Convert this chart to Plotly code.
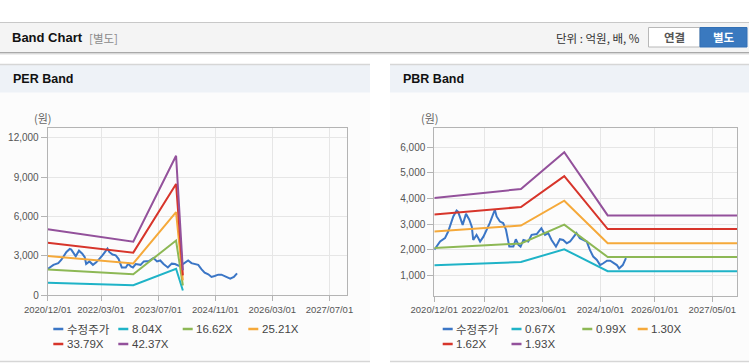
import plotly.graph_objects as go

W, H = 749, 364

# ---------------- data ----------------
PRICE_DATES = ["2020-12-01", "2021-01-19", "2021-03-01", "2021-03-28", "2021-05-10", "2021-06-07",
               "2021-06-20", "2021-07-28", "2021-08-25", "2021-09-22", "2021-10-13", "2021-10-25",
               "2021-11-22", "2021-12-22", "2022-01-19", "2022-02-15", "2022-03-13", "2022-04-25",
               "2022-05-10", "2022-06-07", "2022-07-04", "2022-07-28", "2022-08-25", "2022-09-28",
               "2022-10-19", "2022-11-10", "2022-11-28", "2022-12-22", "2023-02-01", "2023-03-01",
               "2023-04-13", "2023-05-22", "2023-06-22", "2023-07-19", "2023-08-16", "2023-09-22",
               "2023-10-25", "2023-11-22", "2023-12-22", "2024-01-19", "2024-02-16", "2024-03-13",
               "2024-04-10", "2024-05-10", "2024-06-07", "2024-07-04", "2024-08-01", "2024-09-01",
               "2024-09-28", "2024-10-25", "2024-11-25", "2024-12-22", "2025-01-19", "2025-02-16",
               "2025-03-07", "2025-04-07", "2025-05-04"]
PRICE = [2000, 2320, 2450, 2710, 3300, 3530,
         3480, 2970, 3400, 3170, 2900, 2380,
         2580, 2320, 2510, 2780, 3040, 3560,
         3300, 3100, 3040, 2780, 2120, 2120,
         2410, 2190, 2120, 2380, 2320, 2580,
         2610, 2840, 2580, 2650, 2380, 2120,
         2410, 2380, 2250, 2320, 2510, 2650,
         2450, 2380, 2320, 1990, 1730, 1600,
         1400, 1470, 1570, 1570, 1470, 1400,
         1270, 1400, 1670]

PER_DATES = ["2020-12-01", "2022-12-01", "2023-12-01", "2024-01-28"]
PER_NAMES = ["8.04X", "16.62X", "25.21X", "33.79X", "42.37X"]
PER_804 = [954, 774, 2018, 362]
PER_1662 = [1971, 1600, 4172, 748]
PER_2521 = [2990, 2428, 6330, 1134]
PER_3379 = [4010, 3250, 8480, 1520]
PER_4237 = [5025, 4080, 10630, 1907]

PBR_DATES = ["2020-12-01", "2022-12-01", "2023-12-01", "2024-12-01", "2027-11-28"]
PBR_NAMES = ["0.67X", "0.99X", "1.30X", "1.62X", "1.93X"]
PBR_067 = [1396, 1517, 2017, 1160, 1160]
PBR_099 = [2062, 2241, 2980, 1714, 1714]
PBR_130 = [2708, 2943, 3913, 2250, 2250]
PBR_162 = [3374, 3668, 4876, 2804, 2804]
PBR_193 = [4020, 4370, 5810, 3340, 3340]

PER_XTICKS = ["2020-12-01", "2022-03-01", "2023-07-01", "2024-11-01", "2026-03-01", "2027-07-01"]
PER_XLABELS = ["2020/12/01", "2022/03/01", "2023/07/01", "2024/11/01", "2026/03/01", "2027/07/01"]
PBR_XTICKS = ["2020-12-01", "2022-02-01", "2023-06-01", "2024-10-01", "2026-01-01", "2027-05-01"]
PBR_XLABELS = ["2020/12/01", "2022/02/01", "2023/06/01", "2024/10/01", "2026/01/01", "2027/05/01"]
PER_YTICKS = [0, 3000, 6000, 9000, 12000]
PBR_YTICKS = [1000, 2000, 3000, 4000, 5000, 6000]

PRICE_NAME = "수정주가"
COLORS = ["#3b76c6", "#1fb3c7", "#8db855", "#f5a93a", "#d7352b", "#93519b"]

# ---------------- helpers ----------------
def px(x):
    return x / W


def py(y):
    return 1 - y / H


FONT = "Liberation Sans, Noto Sans CJK KR, sans-serif"
KFONT = "Noto Sans CJK KR, Liberation Sans, sans-serif"

fig = go.Figure()

# PER chart
fig.add_trace(go.Scatter(x=PRICE_DATES, y=PRICE, mode="lines", line=dict(color=COLORS[0], width=2),
                         xaxis="x", yaxis="y", showlegend=False, name=PRICE_NAME))
for i, vals in enumerate([PER_804, PER_1662, PER_2521, PER_3379, PER_4237]):
    fig.add_trace(go.Scatter(x=PER_DATES, y=vals, mode="lines", line=dict(color=COLORS[i + 1], width=2),
                             xaxis="x", yaxis="y", showlegend=False, name=PER_NAMES[i]))

# PBR chart
fig.add_trace(go.Scatter(x=PRICE_DATES, y=PRICE, mode="lines", line=dict(color=COLORS[0], width=2),
                         xaxis="x2", yaxis="y2", showlegend=False, name=PRICE_NAME))
for i, vals in enumerate([PBR_067, PBR_099, PBR_130, PBR_162, PBR_193]):
    fig.add_trace(go.Scatter(x=PBR_DATES, y=vals, mode="lines", line=dict(color=COLORS[i + 1], width=2),
                             xaxis="x2", yaxis="y2", showlegend=False, name=PBR_NAMES[i]))

axis_common = dict(showgrid=True, gridcolor="#e6e6e6", gridwidth=1, showline=True, linecolor="#b4b4b4",
                   linewidth=1, mirror=True, ticks="outside", tickcolor="#b4b4b4", zeroline=False,
                   automargin=False, fixedrange=True)

shapes = []
annotations = []

# top header bar
shapes.append(dict(type="rect", xref="paper", yref="paper", x0=0, x1=1, y0=py(52.5), y1=py(22.5),
                   fillcolor="#f4f4f4", line=dict(width=0), layer="below"))
shapes.append(dict(type="line", xref="paper", yref="paper", x0=0, x1=1, y0=py(22.5), y1=py(22.5),
                   line=dict(color="#c8c8c8", width=1)))
shapes.append(dict(type="line", xref="paper", yref="paper", x0=0, x1=1, y0=py(52.5), y1=py(52.5),
                   line=dict(color="#a9a9a9", width=1)))
shapes.append(dict(type="line", xref="paper", yref="paper", x0=0, x1=1, y0=py(53.5), y1=py(53.5),
                   line=dict(color="#d9d9d9", width=1)))
shapes.append(dict(type="line", xref="paper", yref="paper", x0=0, x1=1, y0=py(54.5), y1=py(54.5),
                   line=dict(color="#eeeeee", width=1)))
annotations.append(dict(text="<b>Band Chart</b>", x=px(10), y=py(38), xref="paper", yref="paper",
                        xanchor="left", yanchor="middle", showarrow=False,
                        font=dict(family=FONT, size=13, color="#111111")))
annotations.append(dict(text="[별도]", x=px(87), y=py(38), xref="paper", yref="paper",
                        xanchor="left", yanchor="middle", showarrow=False,
                        font=dict(family=KFONT, size=11.5, color="#8a8a8a")))
annotations.append(dict(text="단위 : 억원, 배, %", x=px(642), y=py(38), xref="paper", yref="paper",
                        xanchor="right", yanchor="middle", showarrow=False,
                        font=dict(family=KFONT, size=11.5, color="#333333")))
# buttons
shapes.append(dict(type="rect", xref="paper", yref="paper", x0=px(648.5), x1=px(700), y0=py(47), y1=py(27.5),
                   fillcolor="#ffffff", line=dict(color="#b8b8b8", width=1)))
shapes.append(dict(type="rect", xref="paper", yref="paper", x0=px(700), x1=px(747), y0=py(47), y1=py(27.5),
                   fillcolor="#3a79bf", line=dict(color="#3270b5", width=1)))
annotations.append(dict(text="<b>연결</b>", x=px(674.5), y=py(37.5), xref="paper", yref="paper",
                        xanchor="center", yanchor="middle", showarrow=False,
                        font=dict(family=KFONT, size=11.5, color="#555555")))
annotations.append(dict(text="<b>별도</b>", x=px(723.5), y=py(37.5), xref="paper", yref="paper",
                        xanchor="center", yanchor="middle", showarrow=False,
                        font=dict(family=KFONT, size=11.5, color="#ffffff")))

# panels
for (x0, x1, title) in [(0, 370, "PER Band"), (390, 749, "PBR Band")]:
    shapes.append(dict(type="rect", xref="paper", yref="paper", x0=px(x0), x1=px(x1), y0=py(361), y1=py(64),
                       fillcolor="#fcfcfc", line=dict(width=0), layer="below"))
    shapes.append(dict(type="rect", xref="paper", yref="paper", x0=px(x0), x1=px(x1), y0=py(92.5), y1=py(64.5),
                       fillcolor="#eef2f7", line=dict(width=0), layer="below"))
    shapes.append(dict(type="line", xref="paper", yref="paper", x0=px(x0), x1=px(x1), y0=py(64.5), y1=py(64.5),
                       line=dict(color="#d6d6d6", width=1.5)))
    shapes.append(dict(type="line", xref="paper", yref="paper", x0=px(x0), x1=px(x1), y0=py(361.5), y1=py(361.5),
                       line=dict(color="#d6d6d6", width=1.5)))
    annotations.append(dict(text="<b>" + title + "</b>", x=px(x0 + 11), y=py(79), xref="paper", yref="paper",
                            xanchor="left", yanchor="middle", showarrow=False,
                            font=dict(family=FONT, size=12.5, color="#111111")))

# axis unit labels
for xc in [42.5, 430]:
    annotations.append(dict(text="(원)", x=px(xc), y=py(118), xref="paper", yref="paper",
                            xanchor="center", yanchor="middle", showarrow=False,
                            font=dict(family=KFONT, size=11, color="#666666")))

# manual legends
per_leg = [(53.3, 329, PRICE_NAME), (118.3, 329, PER_NAMES[0]), (182.7, 329, PER_NAMES[1]),
           (248.3, 329, PER_NAMES[2]), (53.3, 344, PER_NAMES[3]), (118.3, 344, PER_NAMES[4])]
pbr_leg = [(442.7, 329, PRICE_NAME), (511.5, 329, PBR_NAMES[0]), (582.3, 329, PBR_NAMES[1]),
           (637.7, 329, PBR_NAMES[2]), (442.7, 344, PBR_NAMES[3]), (511.5, 344, PBR_NAMES[4])]
for leg in (per_leg, pbr_leg):
    for i, (lx, ly, name) in enumerate(leg):
        shapes.append(dict(type="line", xref="paper", yref="paper", x0=px(lx), x1=px(lx + 10),
                           y0=py(ly), y1=py(ly), line=dict(color=COLORS[i], width=2.5)))
        annotations.append(dict(text=name, x=px(lx + 11.5), y=py(ly), xref="paper", yref="paper",
                                xanchor="left", yanchor="middle", showarrow=False,
                                font=dict(family=KFONT if i == 0 else FONT, size=11.5, color="#444444")))

xfont = dict(family=FONT, size=9.5, color="#555555")
yfont = dict(family=FONT, size=10, color="#555555")

fig.update_layout(
    width=W, height=H, margin=dict(l=0, r=0, t=0, b=0, pad=0, autoexpand=False),
    paper_bgcolor="#ffffff", plot_bgcolor="#ffffff",
    showlegend=False,
    xaxis=dict(domain=[px(47.7), px(347)], anchor="y", type="date",
               range=["2020-12-01", "2027-11-28"], tickvals=PER_XTICKS, ticktext=PER_XLABELS,
               ticklen=5, tickangle=0, tickfont=xfont, **axis_common),
    yaxis=dict(domain=[py(295.3), py(128)], anchor="x", range=[0, 12740],
               tickvals=PER_YTICKS, tickformat=",d", ticklen=6, tickfont=yfont, **axis_common),
    xaxis2=dict(domain=[px(434.3), px(737.3)], anchor="y2", type="date",
                range=["2020-12-01", "2027-11-28"], tickvals=PBR_XTICKS, ticktext=PBR_XLABELS,
                ticklen=5, tickangle=0, tickfont=xfont, **axis_common),
    yaxis2=dict(domain=[py(295.7), py(128.3)], anchor="x2", range=[203, 6742],
                tickvals=PBR_YTICKS, tickformat=",d", ticklen=6, tickfont=yfont, **axis_common),
    shapes=shapes, annotations=annotations,
)

fig.write_html("out.html", config={"displayModeBar": False},
               post_script="document.body.style.margin='0';document.body.style.overflow='hidden';")
